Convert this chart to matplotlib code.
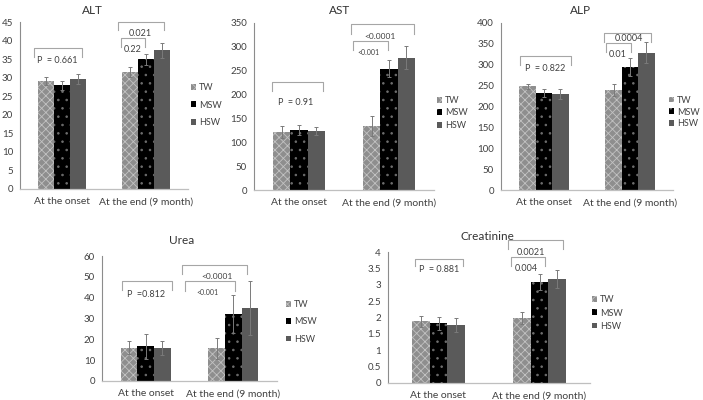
import numpy as np
import matplotlib
matplotlib.use('Agg')
import matplotlib.pyplot as plt

plt.rcParams['font.family'] = ['Lato', 'DejaVu Sans']
plt.rcParams['hatch.linewidth'] = 0.6

groups = ['At the onset', 'At the end (9 month)']
series = ['TW', 'MSW', 'HSW']

# values: [TW, MSW, HSW]
alt_onset = [29.0, 28.0, 29.6]
alt_onset_err = [1.1, 1.2, 1.4]
alt_end = [31.5, 34.9, 37.4]
alt_end_err = [1.3, 1.6, 2.0]
alt_p = ['P  = 0.661', '0.021', '0.22']

ast_onset = [121, 125.5, 123.4]
ast_onset_err = [13, 10, 9]
ast_end = [134, 254.5, 277.5]
ast_end_err = [21, 17, 24]
ast_p = ['P  = 0.91', '<0.0001', '<0.001']

alp_onset = [249, 233, 230]
alp_onset_err = [6, 10, 13]
alp_end = [240, 294, 329]
alp_end_err = [14, 21, 26]
alp_p = ['P  = 0.822', '0.0004', '0.01']

urea_onset = [16.0, 16.8, 15.8]
urea_onset_err = [3.2, 6.0, 3.4]
urea_end = [15.7, 32.2, 34.9]
urea_end_err = [5.0, 9.0, 13.0]
urea_p = ['P  =0.812', '<0.0001', '<0.001']

crea_onset = [1.88, 1.83, 1.76]
crea_onset_err = [0.17, 0.20, 0.21]
crea_end = [1.98, 3.08, 3.17]
crea_end_err = [0.18, 0.25, 0.28]
crea_p = ['P  = 0.881', '0.0021', '0.004']

W, H = 703, 400
fig = plt.figure(figsize=(W/100, H/100), dpi=100)

styles = [dict(color='#8e8e8e', hatch='xxxx', edgecolor='#c2c2c2'), # TW
          dict(color='#000000', hatch='..', edgecolor='#6e6e6e'),   # MSW
          dict(color='#5a5a5a', hatch=None, edgecolor='#5a5a5a')]   # HSW

def px(x0, y0, x1, y1): # pixel box -> figure rect
    return [x0/W, 1-y1/H, (x1-x0)/W, (y1-y0)/H]

def bracket(ax, x0, x1, top, tick, label, lx, ly, fs):
    ax.plot([x0, x0, x1, x1], [tick, top, top, tick], color='#a6a6a6', lw=0.8, clip_on=False)
    ax.text(lx, ly, label, ha='center', va='center', fontsize=fs, color='#404040', clip_on=False)

def drawPanel(rect, title, title_xy, onset, onset_err, end, end_err, ymax, ystep, fmt,
              legend_xy, spacing, bar_w=0.19):
    ax = fig.add_axes(rect)
    x = np.arange(len(groups))
    for i, name in enumerate(series):
        ax.bar(x + (i-1)*bar_w, [onset[i], end[i]], bar_w,
               yerr=[onset_err[i], end_err[i]], label=name, linewidth=0,
               error_kw=dict(ecolor='#7a7a7a', elinewidth=0.7, capsize=1.5, capthick=0.7),
               **styles[i])
    ax.set_xlim(-0.5, 1.5)
    ax.set_ylim(0, ymax)
    ticks = np.arange(0, ymax + ystep/2, ystep)
    ax.set_yticks(ticks)
    ax.set_yticklabels([fmt(t) for t in ticks])
    ax.set_xticks(x)
    ax.set_xticklabels(groups)
    ax.tick_params(axis='both', length=0, labelsize=7, colors='#404040')
    ax.tick_params(axis='y', pad=5)
    ax.tick_params(axis='x', pad=6, labelsize=7.5)
    for s in ['top', 'right']:
        ax.spines[s].set_visible(False)
    ax.spines['left'].set_color('#8c8c8c')
    ax.spines['bottom'].set_color('#bfbfbf')
    ax.spines['left'].set_linewidth(0.8)
    ax.spines['bottom'].set_linewidth(0.9)
    fig.text(title_xy[0]/W, 1-title_xy[1]/H, title, ha='center', va='center',
             fontsize=8.5, color='#333333')
    ax.legend(loc='center left', bbox_to_anchor=(legend_xy[0]/W, 1-legend_xy[1]/H),
              bbox_transform=fig.transFigure, frameon=False, fontsize=6.5,
              handlelength=0.6, handleheight=0.6, handletextpad=0.3,
              borderpad=0, borderaxespad=0, labelspacing=spacing, labelcolor='#404040')
    return ax

num = lambda t: '%g' % t

ax = drawPanel(px(20, 22, 188, 189), 'ALT', (92, 11), alt_onset, alt_onset_err, alt_end, alt_end_err,
               45, 5, num, (191, 105), 0.95)
bracket(ax, -0.335, 0.24, 38, 35.5, alt_p[0], -0.06, 34.7, 6.5)
bracket(ax, 0.665, 1.218, 45, 42.8, alt_p[1], 0.935, 41.9, 6.5)
bracket(ax, 0.70, 0.994, 40.6, 38.3, alt_p[2], 0.84, 37.6, 6.5)

ax = drawPanel(px(254, 23, 434, 190), 'AST', (340, 11), ast_onset, ast_onset_err, ast_end, ast_end_err,
               350, 50, num, (437, 113), 0.4)
bracket(ax, -0.296, 0.263, 226.6, 207.8, ast_p[0], -0.04, 182.7, 6.5)
bracket(ax, 0.575, 1.28, 347, 327.8, ast_p[1], 0.90, 322, 6)
bracket(ax, 0.598, 0.99, 312, 293, ast_p[2], 0.776, 288, 5)

ax = drawPanel(px(501, 23, 673, 190), 'ALP', (580, 11), alp_onset, alp_onset_err, alp_end, alp_end_err,
               400, 50, num, (669, 112), 0.32)
bracket(ax, -0.28, 0.314, 320, 298.8, alp_p[0], 0.01, 290.8, 6.5)
bracket(ax, 0.70, 1.244, 376, 354.6, alp_p[1], 0.988, 362.5, 6.5)
bracket(ax, 0.72, 1.01, 352, 330.7, alp_p[2], 0.86, 324, 6.5)

ax = drawPanel(px(102, 256, 277, 381), 'Urea', (182, 241), urea_onset, urea_onset_err, urea_end, urea_end_err,
               60, 10, num, (286, 322), 0.9)
bracket(ax, -0.274, 0.297, 48, 43.5, urea_p[0], 0.0, 41.6, 6.5)
bracket(ax, 0.417, 1.154, 55.7, 51.2, urea_p[1], 0.81, 50, 6)
bracket(ax, 0.451, 1.017, 47.8, 43.4, urea_p[2], 0.70, 42.4, 5)

ax = drawPanel(px(388, 252, 590, 383), 'Creatinine', (487, 237), crea_onset, crea_onset_err, crea_end, crea_end_err,
               4, 0.5, num, (592, 313), 0.45, bar_w=0.175)
bracket(ax, -0.234, 0.244, 3.79, 3.56, crea_p[0], 0.005, 3.46, 6.5)
bracket(ax, 0.684, 1.23, 4.38, 4.1, crea_p[1], 0.92, 3.99, 6.5)
bracket(ax, 0.713, 1.057, 3.84, 3.56, crea_p[2], 0.87, 3.51, 6.5)

plt.savefig('out.png', dpi=100)
